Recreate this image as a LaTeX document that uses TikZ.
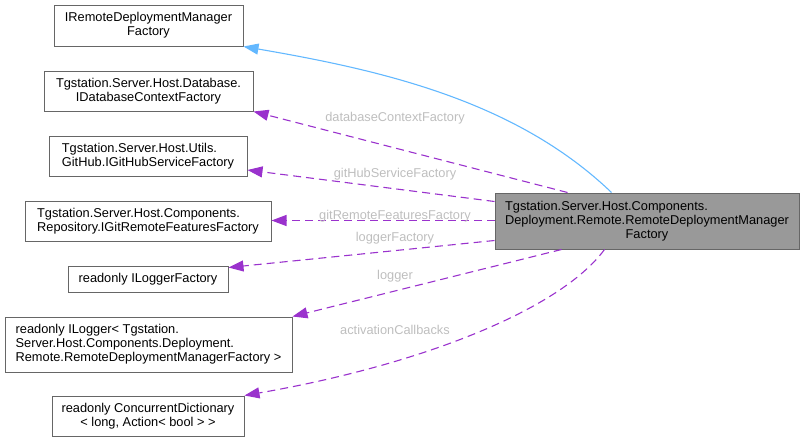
\documentclass[tikz,border=0pt]{standalone}
\usepackage{fontspec}
\setmainfont{Liberation Sans}
\usepackage{xcolor}
\usetikzlibrary{arrows.meta}
\usetikzlibrary{positioning}
\definecolor{boxline}{HTML}{666666}
\definecolor{boxfill}{HTML}{999999}
\definecolor{usecol}{HTML}{9A32CD}
\definecolor{inhcol}{HTML}{63B8FF}
\definecolor{labelcol}{HTML}{BEBEBE}

\begin{document}
\begin{tikzpicture}[x=1pt,y=-1pt,
		every node/.style={font=\fontsize{12.8}{14}\selectfont},
		cls/.style={draw=boxline,line width=1pt,fill=white,inner sep=0pt},
		usage/.style={draw=usecol,line width=1.1pt,dash pattern=on 8pt off 5pt,
			-{Triangle[length=15pt,width=11pt]}},
		inherit/.style={draw=inhcol,line width=1.1pt,-{Triangle[length=15pt,width=11pt]}},
		elabel/.style={text=labelcol,inner sep=0pt,anchor=base}]
	\useasboundingbox (0,0) rectangle (804,442);
	\node[cls,align=center,minimum width=189pt,minimum height=41pt] (irdmf) at (148.5,25.5)
		{IRemoteDeploymentManager\\Factory};
	\node[cls,align=center,minimum width=209pt,minimum height=40pt] (idbcf) at (148.5,91)
		{Tgstation.Server.Host.Database.\\IDatabaseContextFactory};
	\node[cls,align=left,minimum width=198pt,minimum height=40pt] (igsf) at (148,156)
		{Tgstation.Server.Host.Utils.\\GitHub.IGitHubServiceFactory};
	\node[cls,align=left,minimum width=246pt,minimum height=40pt] (igrff) at (148,221)
		{Tgstation.Server.Host.Components.\\Repository.IGitRemoteFeaturesFactory};
	\node[cls,minimum width=160pt,minimum height=26pt] (ilf) at (148,279)
		{readonly ILoggerFactory};
	\node[cls,align=left,minimum width=287pt,minimum height=55pt] (ilog) at (148.5,344.5)
		{readonly ILogger< Tgstation.\\Server.Host.Components.Deployment.\\Remote.RemoteDeploymentManagerFactory >};
	\node[cls,align=center,minimum width=192pt,minimum height=40pt] (icd) at (148,416)
		{readonly ConcurrentDictionary\\< long, Action< bool > >};
	\node[cls,fill=boxfill,align=left,minimum width=304pt,minimum height=56pt] (rdmf) at (647,221)
		{Tgstation.Server.Host.Components.\\Deployment.Remote.RemoteDeploymentManager\\\hfil Factory};

	\draw[inherit] ([xshift=117pt]rdmf.north west) .. controls (515,100) and (380,70) .. (irdmf.south east);
	\draw[usage] ([xshift=73pt]rdmf.north west) -- (idbcf.south east);
	\draw[usage] ([yshift=-9pt]rdmf.north west) -- ([yshift=-14pt]igsf.east);
	\draw[usage] ([yshift=0.5pt]rdmf.west) -- ([yshift=0.5pt]igrff.east);
	\draw[usage] ([yshift=9pt]rdmf.south west) -- ([yshift=-2pt]ilf.north east);
	\draw[usage] ([xshift=67pt]rdmf.south west) -- (ilog.north east);
	\draw[usage] ([xshift=110pt]rdmf.south west) .. controls (560,310) and (420,365) .. (icd.north east);

	\node[elabel] (ldb) at (395,121.5) {databaseContextFactory};
	\node[elabel] (lgh) at (395,177.5) {gitHubServiceFactory};
	\node[elabel] (lgr) at (395,219.5) {gitRemoteFeaturesFactory};
	\node[elabel] (llf) at (395,241.5) {loggerFactory};
	\node[elabel] (llog) at (395,279.5) {logger};
	\node[elabel] (lact) at (395,334.5) {activationCallbacks};
\end{tikzpicture}
\end{document}
